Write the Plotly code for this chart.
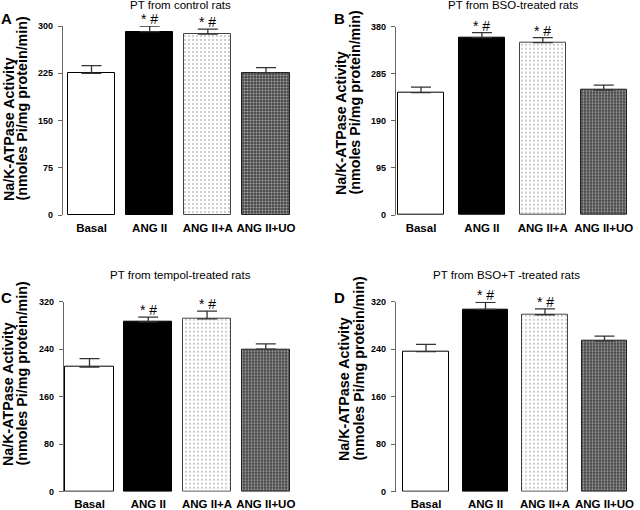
import plotly.graph_objects as go

W, H = 640, 510

categories = ["Basal", "ANG II", "ANG II+A", "ANG II+UO"]

titles = ["PT from control rats", "PT from BSO-treated rats",
          "PT from tempol-treated rats", "PT from BSO+T -treated rats"]
letters = ["A", "B", "C", "D"]
ytitle_lines = ["Na/K-ATPase Activity", "(nmoles Pi/mg protein/min)"]

vals_A = [225, 291, 287, 226]
err_A = [12, 9, 8, 8]
vals_B = [247, 358, 348, 252]
err_B = [11, 10, 10, 10]
vals_C = [210, 286, 291, 240]
err_C = [14, 8, 13, 9]
vals_D = [236, 307, 298, 254]
err_D = [12, 12, 10, 8]

ticks_A = [0, 75, 150, 225, 300]
ticks_B = [0, 95, 190, 285, 380]
ticks_C = [0, 80, 160, 240, 320]
ticks_D = [0, 80, 160, 240, 320]

sig_marks = ["", "* #", "* #", ""]

values = [vals_A, vals_B, vals_C, vals_D]
errors = [err_A, err_B, err_C, err_D]
ticks = [ticks_A, ticks_B, ticks_C, ticks_D]

# layout geometry in pixels
geo = [
    dict(ax=63, c0=91.5, c3=266.0, y0=215, y1=26, bw=0.81,
         title=(180, 5), letter=(6, 19), ytitle=(9, 22, 203)),
    dict(ax=396, c0=421.0, c3=603.7, y0=215, y1=26.7, bw=0.76,
         title=(513, 5), letter=(339, 19), ytitle=(341, 355, 197)),
    dict(ax=64, c0=89.5, c3=265.8, y0=491.7, y1=301.7, bw=0.82,
         title=(180, 275), letter=(6, 297), ytitle=(8, 21, 468)),
    dict(ax=396, c0=426.0, c3=604.5, y0=491.7, y1=301.7, bw=0.77,
         title=(506, 275), letter=(339, 297), ytitle=(344, 358, 463)),
]

bar_styles = [
    dict(color="white", line=dict(color="black", width=1)),
    dict(color="black", line=dict(color="black", width=1)),
    dict(color="white", line=dict(color="#444", width=1),
         pattern=dict(shape=".", size=4, solidity=0.18, fgcolor="#777", bgcolor="white")),
    dict(color="#555", line=dict(color="#222", width=1),
         pattern=dict(shape=".", size=3, solidity=0.35, fgcolor="white", bgcolor="#4a4a4a")),
]

fig = go.Figure()
annotations = []
FONT = "Liberation Sans, Arial, sans-serif"

for p in range(4):
    g = geo[p]
    s = (g["c3"] - g["c0"]) / 3.0
    off = (g["c0"] - g["ax"]) / s
    xr = [-off, 3.5]
    dom_x = [g["ax"] / W, min(1.0, (g["c3"] + 0.5 * s) / W)]
    dom_y = [1 - g["y0"] / H, 1 - g["y1"] / H]
    sfx = "" if p == 0 else str(p + 1)
    for i in range(4):
        fig.add_trace(go.Bar(
            x=[i], y=[values[p][i]], width=g["bw"],
            marker=bar_styles[i],
            error_y=dict(type="data", array=[errors[p][i]], arrayminus=[0],
                         symmetric=False, color="#333", thickness=1.3, width=10),
            xaxis="x" + sfx, yaxis="y" + sfx, showlegend=False, cliponaxis=False,
        ))
        if sig_marks[i]:
            annotations.append(dict(
                x=i, y=values[p][i] + errors[p][i], xref="x" + sfx, yref="y" + sfx,
                text=sig_marks[i], showarrow=False, xanchor="center", yanchor="bottom",
                yshift=-3, font=dict(family=FONT, size=14, color="black")))
    fig.update_layout(**{
        "xaxis" + sfx: dict(domain=dom_x, range=xr, anchor="y" + sfx, automargin=False,
                            tickvals=[0, 1, 2, 3], ticktext=categories,
                            showline=False, ticks="", showgrid=False, zeroline=False,
                            ticklabelstandoff=4,
                            tickfont=dict(family=FONT, size=11.5, color="black", weight="bold")),
        "yaxis" + sfx: dict(domain=dom_y, range=[0, ticks[p][-1]], anchor="x" + sfx,
                            automargin=False,
                            tickvals=ticks[p], showline=True, linecolor="#666", linewidth=1.2,
                            ticks="outside", ticklen=4, tickcolor="#666", tickwidth=1.2,
                            showgrid=False, zeroline=False, ticklabelstandoff=3,
                            tickfont=dict(family=FONT, size=9, color="black", weight="bold")),
    })
    tx, ty = g["title"]
    annotations.append(dict(x=tx / W, y=1 - ty / H, xref="paper", yref="paper",
                            text=titles[p], showarrow=False, xanchor="center", yanchor="middle",
                            font=dict(family=FONT, size=11.5, color="black")))
    lx, ly = g["letter"]
    annotations.append(dict(x=lx / W, y=1 - ly / H, xref="paper", yref="paper",
                            text="<b>" + letters[p] + "</b>", showarrow=False,
                            xanchor="center", yanchor="middle",
                            font=dict(family=FONT, size=15, color="black")))
    yx1, yx2, yb = g["ytitle"]
    for k, xx in enumerate([yx1, yx2]):
        annotations.append(dict(x=xx / W, y=1 - yb / H, xref="paper", yref="paper",
                                text="<b>" + ytitle_lines[k] + "</b>",
                                showarrow=False, textangle=-90,
                                xanchor="center", yanchor="bottom",
                                font=dict(family=FONT, size=14.3, color="black")))

fig.update_layout(
    width=W, height=H, margin=dict(l=0, r=0, t=0, b=0, autoexpand=False),
    paper_bgcolor="white", plot_bgcolor="white",
    annotations=annotations, bargap=0,
)

fig.write_html("out.html", config={"displayModeBar": False},
               post_script="document.body.style.margin='0';document.body.style.overflow='hidden';")
